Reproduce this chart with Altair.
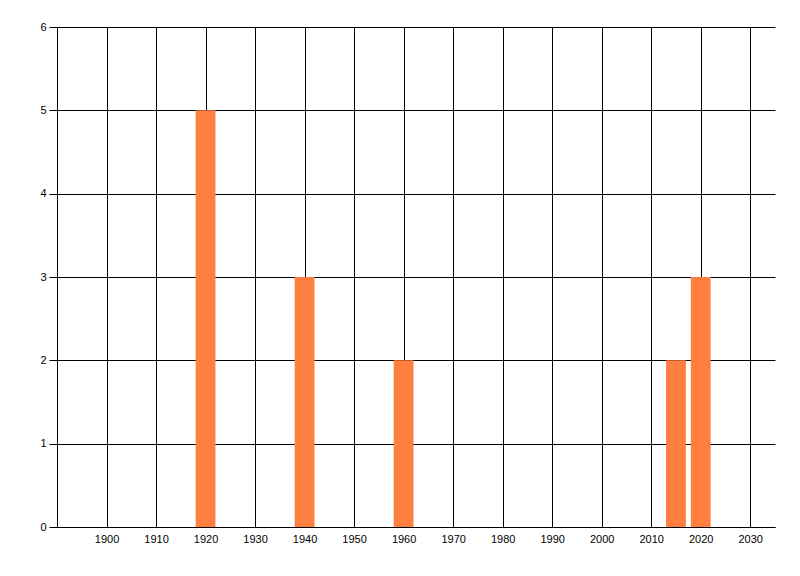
import altair as alt
import pandas as pd

years = [1920, 1940, 1960, 2015, 2020]
counts = [5, 3, 2, 2, 3]
x_ticks = list(range(1900, 2031, 10))
y_ticks = [0, 1, 2, 3, 4, 5, 6]

df = pd.DataFrame({'year': years, 'count': counts})

chart = alt.Chart(df).transform_calculate(
    start='datum.year - 2',
    end='datum.year + 2'
).mark_rect(color='#FF7F40', opacity=1).encode(
    x=alt.X('start:Q',
            scale=alt.Scale(domain=[1890, 2035], nice=False, zero=False),
            axis=alt.Axis(values=x_ticks, format='d', title=None,
                          ticks=False, labelPadding=6)),
    x2='end:Q',
    y=alt.Y('count:Q',
            scale=alt.Scale(domain=[0, 6], nice=False),
            axis=alt.Axis(values=y_ticks, format='d', title=None,
                          tickSize=8, labelPadding=3)),
    y2=alt.datum(0),
).properties(
    width=718,
    height=500,
    autosize=alt.AutoSizeParams(type='none'),
    padding={'left': 49, 'top': 19, 'right': 17, 'bottom': 41},
    background='white'
).configure_view(
    stroke=None
).configure_axis(
    grid=True,
    gridColor='black',
    gridOpacity=1,
    gridWidth=1,
    domainColor='black',
    domainWidth=1,
    tickColor='black',
    tickWidth=1,
    labelFont='Liberation Sans',
    labelFontSize=11,
    labelColor='black'
)

chart.save("out.html", embed_options={"renderer": "svg", "actions": False})
